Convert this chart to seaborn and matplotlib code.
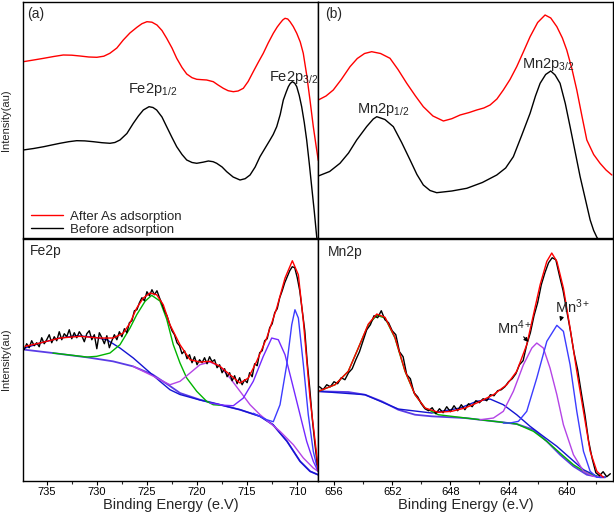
import numpy as np
import matplotlib
matplotlib.use("Agg")
import matplotlib.pyplot as plt
from matplotlib.ticker import MultipleLocator, NullLocator
import seaborn as sns

sns.set_style("white")
plt.rcParams['font.family'] = ['Liberation Sans', 'DejaVu Sans']
plt.rcParams['mathtext.fontset'] = 'custom'
plt.rcParams['mathtext.rm'] = 'Liberation Sans'
plt.rcParams['mathtext.it'] = 'Liberation Sans:italic'
plt.rcParams['mathtext.bf'] = 'Liberation Sans:bold'

# ---------------- (a) Fe2p smoothed spectra ----------------
fe_after_E = [737.34, 736.3, 735.3, 734.3, 733.35, 732.5, 731.68, 730.8, 730.0, 729.3,
              728.7, 728.0, 727.36, 726.7, 726.0, 725.5, 725.0, 724.5, 724.0, 723.5,
              723.03, 722.5, 722.03, 721.5, 721.03, 720.5, 720.03, 719.5, 719.04, 718.38,
              717.9, 717.38, 716.9, 716.38, 715.9, 715.38, 714.9, 714.39, 713.9, 713.39,
              712.9, 712.39, 712.0, 711.72, 711.45, 711.22, 710.95, 710.72, 710.4, 710.05,
              709.7, 709.4, 709.05, 708.73, 708.4, 708.06, 707.9]
fe_after_I = [176.8, 178.5, 180.2, 182.0, 183.5, 183.3, 182.5, 181.5, 181.2, 182.3,
              185.2, 190.5, 198.5, 205.5, 211.2, 214.8, 216.8, 216.3, 213.5, 208.0,
              200.2, 190.5, 180.2, 171.0, 164.5, 160.8, 159.2, 158.8, 158.5, 156.8,
              153.5, 150.2, 147.8, 146.8, 147.5, 150.2, 157.0, 166.8, 176.0, 185.2,
              195.5, 205.2, 211.5, 215.2, 218.5, 220.2, 219.5, 216.8, 212.0, 205.2,
              196.5, 185.2, 163.0, 138.5, 112.0, 88.5, 78.0]
fe_before_E = [737.34, 736.3, 735.3, 734.5, 733.68, 732.8, 732.01, 731.2, 730.35, 729.5,
               728.69, 728.2, 727.69, 727.0, 726.36, 725.85, 725.36, 724.79, 724.4, 724.03,
               723.5, 723.03, 722.5, 722.03, 721.5, 721.03, 720.5, 720.03, 719.4, 718.87,
               718.4, 718.04, 717.5, 717.04, 716.4, 715.71, 715.2, 714.71, 714.2, 713.72,
               713.2, 712.72, 712.4, 712.05, 711.7, 711.39, 711.1, 710.89, 710.7, 710.49,
               710.25, 710.05, 709.8, 709.56, 709.3, 709.06, 708.8, 708.56, 708.3, 708.06,
               707.9]
fe_before_I = [88.5, 90.0, 91.8, 93.5, 95.2, 96.8, 97.8, 97.6, 96.8, 95.8,
               95.2, 96.0, 98.5, 105.0, 115.2, 122.5, 128.5, 131.8, 131.0, 128.5,
               121.5, 111.8, 101.0, 91.8, 84.0, 78.5, 76.0, 75.2, 76.3, 77.5,
               76.8, 75.2, 71.5, 66.8, 61.5, 58.5, 59.8, 63.5, 71.5, 81.8,
               90.5, 98.5, 104.0, 111.8, 124.0, 138.5, 146.5, 151.8, 155.0, 156.8,
               155.3, 151.8, 143.0, 131.8, 116.0, 98.5, 75.0, 51.8, 27.0, 1.8,
               -10.0]

# ---------------- (b) Mn2p smoothed spectra ----------------
mn_after_E = [657.08, 656.55, 656.05, 655.5, 654.9, 654.4, 653.9, 653.41, 652.8, 652.15,
              651.6, 651.0, 650.4, 649.86, 649.2, 648.48, 647.9, 647.33, 646.7, 646.19,
              645.7, 645.27, 644.8, 644.36, 643.9, 643.44, 643.0, 642.52, 642.0, 641.49,
              641.1, 640.68, 640.3, 640.0, 639.65, 639.31, 638.95, 638.62, 638.15, 637.71,
              637.3, 636.9]
mn_after_I = [138.5, 142.5, 148.5, 159.0, 171.8, 180.0, 185.0, 186.8, 185.0, 180.2,
              169.0, 155.2, 142.5, 131.8, 122.5, 117.5, 119.8, 123.5, 126.0, 128.5,
              130.5, 133.5, 139.5, 148.5, 159.0, 171.8, 186.0, 201.8, 216.0, 223.5,
              220.5, 211.8, 200.5, 188.5, 170.0, 148.5, 122.0, 98.5, 84.0, 75.2,
              68.5, 63.5]
mn_before_E = [657.08, 656.3, 655.59, 655.0, 654.44, 653.75, 653.3, 653.06, 652.5, 651.92,
               651.35, 650.77, 650.3, 649.86, 649.4, 648.94, 647.9, 646.87, 645.8, 644.81,
               644.2, 643.67, 643.1, 642.52, 642.15, 641.83, 641.45, 641.1, 640.8, 640.46,
               640.1, 639.77, 639.4, 639.08, 638.7, 638.39, 638.15, 637.93, 636.9]
mn_before_I = [62.5, 67.0, 75.2, 85.5, 98.5, 112.0, 119.5, 121.8, 119.0, 111.8,
               96.0, 78.5, 64.0, 53.5, 48.0, 45.8, 47.5, 50.2, 56.0, 63.5,
               70.5, 81.8, 103.0, 125.2, 142.5, 155.2, 164.0, 167.5, 163.5, 155.2,
               135.0, 111.8, 85.0, 61.8, 38.0, 18.5, 8.0, 1.2, -20.0]

# ---------------- Fe2p fitted spectrum ----------------
fe_raw_start, fe_raw_step = 737.25, 0.25
fe_raw = [131, 137, 133, 140, 135, 138, 134, 143, 137, 141, 146, 138, 144, 140, 149, 141,
          147, 144, 151, 142, 148, 143, 149, 145, 139, 147, 150, 141, 146, 132, 148, 143,
          137, 145, 133, 140, 146, 141, 149, 144, 152, 148, 158, 160, 170, 171, 178, 183,
          180, 189, 185, 191, 186, 190, 183, 177, 170, 165, 157, 150, 146, 138, 135, 127,
          130, 122, 126, 118, 124, 116, 121, 118, 123, 117, 124, 119, 121, 113, 116, 108,
          112, 104, 108, 100, 105, 97, 103, 96, 101, 98, 108, 104, 117, 115, 128, 130,
          140, 142, 153, 157, 168, 172, 183, 190, 198, 204, 210, 214, 213, 203, 190, 170,
          150, 118, 92, 62, 38, 16]
fe_env_E = [737.17, 735.67, 733.68, 731.68, 729.69, 728.36, 727.36, 726.69, 726.02, 725.36,
            724.7, 724.03, 723.37, 722.7, 721.7, 720.7, 719.71, 718.71, 717.71, 716.71,
            715.71, 714.88, 714.05, 713.05, 712.05, 711.22, 710.49, 709.89, 709.39, 708.73,
            708.06, 707.9]
fe_env_I = [134.4, 137.7, 142.7, 144.4, 142.7, 142.7, 147.7, 157.7, 172.7, 182.7,
            187.7, 186.0, 176.0, 156.0, 136.0, 121.0, 118.7, 119.4, 114.4, 106.0,
            97.7, 102.7, 119.4, 142.7, 172.7, 202.7, 220.0, 206.0, 159.4, 82.7,
            26.0, 9.7]
fe_bg_E = [737.17, 734.38, 730.98, 728.39, 726.39, 724.4, 722.7, 721.7, 719.71, 717.71,
           715.71, 713.71, 712.42, 711.02, 709.72, 708.72, 707.93]
fe_bg_I = [131.0, 127.7, 123.4, 119.4, 114.4, 106.0, 94.7, 87.7, 81.0, 76.0,
           71.0, 64.4, 56.0, 39.4, 19.4, 9.4, 6.0]
fe_sat_E = [737.17, 735.67, 733.68, 732.01, 730.35, 729.02, 727.69, 726.36, 725.03, 723.7,
            722.7, 721.7, 719.71, 717.71, 715.71, 713.71, 712.42, 711.02, 709.72, 708.72, 707.93]
fe_sat_I = [132.7, 137.7, 142.7, 145.0, 143.7, 141.0, 132.7, 122.7, 111.0, 99.4,
            91.0, 86.2, 80.7, 76.0, 71.0, 64.4, 56.0, 39.4, 19.4, 9.4, 6.0]
fe_p12_E = [734.38, 730.98, 730.01, 728.69, 727.69, 726.69, 726.02, 725.19, 724.53, 723.7,
            723.03, 722.37, 721.7, 721.03, 720.03, 719.04, 718.38, 717.71]
fe_p12_I = [127.7, 123.7, 124.4, 127.7, 136.0, 152.7, 166.0, 179.4, 185.4, 179.7,
            161.7, 136.0, 117.7, 102.7, 89.4, 79.4, 76.0, 75.5]
fe_s2_E = [726.39, 724.4, 723.7, 722.7, 721.7, 720.7, 719.71, 718.71, 717.71, 716.71,
           715.71, 714.71, 713.71, 712.71, 711.72, 710.39, 709.39, 708.4, 707.93]
fe_s2_I = [114.4, 104.7, 101.0, 96.0, 99.4, 107.7, 116.0, 118.7, 114.4, 102.7,
           89.4, 76.0, 66.0, 57.7, 49.4, 36.0, 22.7, 12.7, 9.4]
fe_p2_E = [718.71, 717.38, 716.38, 715.38, 714.39, 713.39, 712.55, 711.89, 711.22, 710.55,
           709.72, 709.06, 708.4, 707.93]
fe_p2_I = [77.7, 75.5, 75.0, 82.7, 99.4, 124.4, 142.7, 141.0, 126.0, 99.4,
           66.0, 39.4, 19.4, 9.4]
fe_p1_E = [714.39, 713.05, 712.39, 711.72, 711.05, 710.55, 710.23, 709.89, 709.39, 708.9,
           708.4, 707.93]
fe_p1_I = [67.5, 61.0, 59.0, 76.0, 116.0, 156.0, 171.0, 162.7, 116.0, 66.0,
           29.4, 9.4]

# ---------------- Mn2p fitted spectrum ----------------
mn_raw_start, mn_raw_step = 657.0, 0.25
mn_raw = [94, 91, 96, 94, 99, 97, 103, 101, 108, 112, 121, 129, 140, 151, 156, 165,
          163, 170, 161, 158, 150, 146, 129, 124, 106, 102, 88, 84, 77, 72, 70, 73,
          67, 72, 68, 74, 69, 75, 70, 76, 71, 77, 74, 80, 78, 82, 80, 86, 85, 90,
          91, 94, 99, 102, 107, 116, 120, 136, 148, 165, 178, 196, 208, 218, 223, 221,
          205, 190, 170, 150, 128, 111, 88, 66, 40, 22, 8, 5, 9, 4, 7]
mn_env_E = [657.08, 655.93, 655.02, 654.33, 653.64, 653.06, 652.49, 651.81, 651.12, 650.43,
            649.74, 648.83, 647.91, 647.0, 646.19, 645.04, 644.12, 643.44, 642.75, 642.29,
            641.83, 641.37, 641.03, 640.68, 640.23, 639.77, 639.31, 638.85, 638.39, 637.93,
            637.48]
mn_env_I = [89.4, 96.0, 109.4, 132.7, 156.7, 166.7, 163.4, 143.4, 110.0, 86.0,
            72.7, 68.4, 69.4, 72.7, 77.7, 86.0, 96.0, 109.4, 136.0, 166.0,
            196.0, 219.4, 227.7, 219.4, 192.7, 152.7, 109.4, 69.4, 29.4, 9.4,
            3.4]
mn_bg_E = [657.08, 655.02, 653.87, 652.72, 651.58, 650.43, 649.28, 647.0, 645.96, 644.58,
           643.44, 642.29, 641.37, 640.46, 639.54, 638.62, 637.71, 637.36]
mn_bg_I = [89.4, 88.7, 86.0, 79.4, 71.0, 66.0, 64.4, 62.7, 61.0, 58.7,
           56.7, 51.0, 39.4, 26.0, 14.4, 6.0, 3.4, 3.4]
mn_sat_E = [657.08, 653.87, 651.58, 649.28, 647.33, 646.19, 645.27, 644.36, 643.44, 642.52,
            641.61, 640.68, 639.77, 638.85, 637.93, 637.36]
mn_sat_I = [89.4, 86.0, 71.7, 67.7, 72.7, 79.4, 81.7, 76.0, 66.0, 54.4,
            44.4, 34.4, 22.7, 11.0, 4.4, 3.4]
mn_p12_E = [657.08, 655.93, 655.02, 654.33, 653.64, 653.06, 652.49, 651.81, 651.12, 650.43,
            649.74, 648.83, 647.91, 645.96, 644.58, 643.44, 642.29, 641.37, 640.46, 639.54,
            638.62, 637.71, 637.36]
mn_p12_I = [89.4, 96.0, 109.4, 132.7, 156.0, 165.4, 162.7, 142.7, 109.4, 86.0,
            72.7, 66.0, 64.4, 61.0, 58.7, 56.7, 49.4, 39.4, 27.7, 16.0,
            7.7, 3.4, 3.4]
mn4_E = [645.96, 645.04, 644.36, 643.67, 642.98, 642.4, 642.06, 641.61, 641.15, 640.68,
         640.23, 639.54, 638.85, 638.17, 637.36]
mn4_I = [61.0, 62.7, 69.4, 89.4, 116.0, 132.7, 137.7, 132.7, 112.7, 86.0,
         56.0, 26.0, 9.4, 4.4, 3.4]
mn3_E = [644.36, 643.9, 643.32, 642.75, 642.06, 641.37, 640.68, 640.23, 639.77, 639.31,
         638.85, 638.39, 637.93, 637.36]
mn3_I = [57.7, 57.7, 59.4, 69.4, 102.7, 139.4, 155.4, 149.4, 116.0, 69.4,
         29.4, 9.4, 3.4, 3.4]

fe_ticks = [735, 730, 725, 720, 715, 710]
mn_ticks = [656, 652, 648, 644, 640]

C_RED, C_BLACK = '#ff0000', '#000000'
C_GREEN = '#00b400'
C_BG = '#5a3ce6'
C_SAT = '#1414d2'
C_MAG = '#b444e6'
C_PUR = '#7428ff'
C_BLUE = '#3c3cff'


def draw(ax, x, y, color, lw=1.0, label=None):
    sns.lineplot(x=np.asarray(x, float), y=np.asarray(y, float), ax=ax, color=color,
                 lw=lw, sort=False, estimator=None, label=label, legend=False,
                 solid_joinstyle='round')


fig = plt.figure(figsize=(6.14, 5.12), dpi=100)
ax_a = fig.add_axes([0.0379, 0.5342, 0.4805, 0.4619])
ax_b = fig.add_axes([0.5184, 0.5342, 0.4795, 0.4619])
ax_c = fig.add_axes([0.0379, 0.0611, 0.4805, 0.4730])
ax_d = fig.add_axes([0.5184, 0.0611, 0.4795, 0.4730])

# (a)
draw(ax_a, fe_after_E, fe_after_I, C_RED, label='After As adsorption')
draw(ax_a, fe_before_E, fe_before_I, C_BLACK, label='Before adsorption')
ax_a.text(736.97, 224.5, '(a)', fontsize=10, ha='left', va='center')
ax_a.text(726.89, 148.5, r'Fe2p$_{1/2}$', fontsize=10.5, ha='left', va='center')
ax_a.text(712.82, 160.5, r'Fe2p$_{3/2}$', fontsize=10.5, ha='left', va='center', clip_on=False)
ax_a.legend(loc='lower left', bbox_to_anchor=(0.01, -0.01), frameon=False, fontsize=9.5,
            handlelength=2.4, handletextpad=0.5, labelspacing=0.05, borderaxespad=0.0)

# (b)
draw(ax_b, mn_after_E, mn_after_I, C_RED)
draw(ax_b, mn_before_E, mn_before_I, C_BLACK)
ax_b.text(656.62, 224.5, '(b)', fontsize=10, ha='left', va='center')
ax_b.text(654.42, 128.5, r'Mn2p$_{1/2}$', fontsize=10.5, ha='left', va='center')
ax_b.text(643.07, 173.5, r'Mn2p$_{3/2}$', fontsize=10.5, ha='left', va='center')

# Fe2p fit
fe_raw_E = fe_raw_start - fe_raw_step * np.arange(len(fe_raw))
draw(ax_c, fe_bg_E, fe_bg_I, C_BG, lw=1.3)
draw(ax_c, fe_sat_E, fe_sat_I, C_SAT)
draw(ax_c, fe_p12_E, fe_p12_I, C_GREEN)
draw(ax_c, fe_s2_E, fe_s2_I, C_MAG)
draw(ax_c, fe_p2_E, fe_p2_I, C_PUR)
draw(ax_c, fe_p1_E, fe_p1_I, C_BLUE)
draw(ax_c, fe_raw_E, fe_raw, C_BLACK)
draw(ax_c, fe_env_E, fe_env_I, C_RED)
ax_c.text(736.67, 229.4, 'Fe2p', fontsize=10, ha='left', va='center')

# Mn2p fit
mn_raw_E = mn_raw_start - mn_raw_step * np.arange(len(mn_raw))
draw(ax_d, mn_bg_E, mn_bg_I, C_BG, lw=1.3)
draw(ax_d, mn_sat_E, mn_sat_I, C_SAT)
draw(ax_d, mn_p12_E, mn_p12_I, C_GREEN)
draw(ax_d, mn4_E, mn4_I, C_MAG)
draw(ax_d, mn3_E, mn3_I, C_BLUE)
draw(ax_d, mn_raw_E, mn_raw, C_BLACK)
draw(ax_d, mn_env_E, mn_env_I, C_RED)
ax_d.text(656.39, 228.7, 'Mn2p', fontsize=10, ha='left', va='center')
ax_d.text(644.81, 152.7, r'Mn$^{4+}$', fontsize=10.5, ha='left', va='center')
ax_d.text(640.8, 174.4, r'Mn$^{3+}$', fontsize=10.5, ha='left', va='center')
ax_d.annotate('', xy=(642.52, 136.7), xytext=(643.09, 146.0),
              arrowprops=dict(arrowstyle='-|>', color='k', lw=0.8, mutation_scale=6))
ax_d.annotate('', xy=(640.5, 156.7), xytext=(640.34, 164.4),
              arrowprops=dict(arrowstyle='-|>', color='k', lw=0.8, mutation_scale=6))

# axes styling
for ax in (ax_a, ax_c):
    ax.set_xlim(737.34, 707.9)
for ax in (ax_b, ax_d):
    ax.set_xlim(657.08, 636.84)
for ax in (ax_a, ax_b):
    ax.set_ylim(0, 236.5)
for ax in (ax_c, ax_d):
    ax.set_ylim(0, 242.2)

for ax in (ax_a, ax_b, ax_c, ax_d):
    ax.set_xlabel('')
    ax.set_ylabel('')
    ax.set_yticks([])
    for s in ax.spines.values():
        s.set_color('black')
        s.set_linewidth(1.0)

for ax in (ax_a, ax_b):
    ax.set_xticks([])
    ax.xaxis.set_minor_locator(NullLocator())

ax_c.set_xticks(fe_ticks)
ax_c.xaxis.set_minor_locator(MultipleLocator(2.5))
ax_d.set_xticks(mn_ticks)
ax_d.xaxis.set_minor_locator(MultipleLocator(2))
for ax in (ax_c, ax_d):
    ax.tick_params(axis='x', which='major', bottom=True, direction='out', length=3,
                   width=0.8, labelsize=8, pad=1.5, colors='black')
    ax.tick_params(axis='x', which='minor', bottom=True, direction='out', length=1.8, width=0.8)
    ax.set_xlabel('Binding Energy (e.V)', fontsize=10.5)
    ax.xaxis.set_label_coords(0.5, -0.073)

for ax in (ax_a, ax_c):
    ax.set_ylabel('Intensity(au)', fontsize=8)
    ax.yaxis.set_label_coords(-0.04, 0.5)

fig.savefig('out.png', dpi=100)
